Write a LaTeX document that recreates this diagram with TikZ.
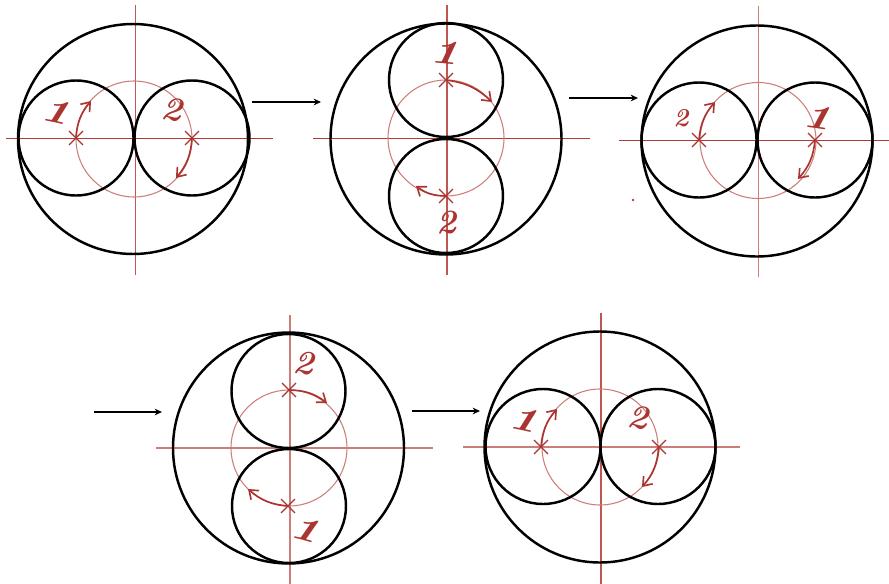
\documentclass[tikz,border=0pt]{standalone}
\usepackage{tikz}
\usepackage{graphicx}
\usetikzlibrary{shapes,shapes.misc,arrows.meta}
\definecolor{redline}{RGB}{178,58,52}
\definecolor{redpale}{RGB}{205,125,120}
\definecolor{redhand}{RGB}{172,52,48}
\newcommand{\wideone}{\scalebox{1.45}[1]{1}}
\tikzset{
  wheel/.style={black,line width=2.1pt},
  pitch/.style={redpale,line width=0.9pt},
  axis/.style={redline,line width=0.8pt},
  upright/.style={redline!85,line width=1.2pt},
  paleaxis/.style={redpale,line width=1.2pt},
  crossmark/.style={cross out,draw=redhand,line width=1.1pt,minimum size=0.38cm,inner sep=0pt},
  turn/.style={redhand,line width=1.4pt,-{Straight Barb[length=2.4mm,width=3.6mm]},bend left=18},
  digit/.style={text=redhand,inner sep=0pt,font=\fontsize{29}{29}\selectfont\bfseries\itshape},
  smalldigit/.style={digit,font=\fontsize{22}{22}\selectfont\bfseries\itshape},
  move/.style={black,line width=1.3pt,-{Stealth[length=2.2mm,width=2mm]}}
}
\begin{document}
\begin{tikzpicture}[x=0.03cm,y=-0.03cm]
\useasboundingbox (0,0) rectangle (889,584);

% first position
\draw[upright] (135.5,5) -- (135.5,275);
\draw[axis] (6,138) -- (273,138);
\draw[pitch] (134,139) circle (58);
\draw[wheel] (133,139) circle (115);
\draw[wheel] (76,138) circle (57.5);
\draw[wheel] (192,138) circle (57.5);
\node[crossmark] (c1a) at (76,138) {};
\node[crossmark] (c1b) at (192,138) {};
\coordinate (e1a) at (91,101);
\coordinate (e1b) at (176,178);
\draw[turn] (c1a.center) to (e1a);
\draw[turn] (c1b.center) to (e1b);
\node[digit,rotate=-12] (n1a) at (56,112) {\wideone};
\node[digit,rotate=-10] (n1b) at (172,109) {2};

% second position
\draw[upright] (447,5) -- (447,275);
\draw[axis] (313,138) -- (590,138);
\draw[pitch] (446,138) circle (58);
\draw[wheel] (446,139) circle (115.5);
\draw[wheel] (446,80) circle (57);
\draw[wheel] (446,196) circle (57);
\node[crossmark] (c2a) at (446,80) {};
\node[crossmark] (c2b) at (446,196) {};
\coordinate (e2a) at (492,102);
\coordinate (e2b) at (416,186);
\draw[turn] (c2a.center) to (e2a);
\draw[turn] (c2b.center) to (e2b);
\node[digit,rotate=-5] (n2a) at (445,53) {\wideone};
\node[digit] (n2b) at (447,223) {2};

% third position
\draw[paleaxis] (758.5,6) -- (758.5,277);
\draw[axis] (619,140) -- (889,140);
\draw[pitch] (758,140.5) circle (58);
\draw[wheel] (757,141) circle (115.5);
\draw[wheel] (699,140) circle (57.5);
\draw[wheel] (815,140) circle (57.5);
\node[crossmark] (c3a) at (699,140) {};
\node[crossmark] (c3b) at (815,140) {};
\coordinate (e3a) at (715,102);
\coordinate (e3b) at (798,179);
\draw[turn] (c3a.center) to (e3a);
\draw[turn] (c3b.center) to (e3b);
\node[smalldigit] (n3a) at (681,118) {2};
\node[digit,rotate=-8] (n3b) at (817,117) {\wideone};
\node[circle,fill=redline,inner sep=0.8pt] (spot) at (633,200) {};

% fourth position
\draw[paleaxis] (290,315) -- (290,584);
\draw[paleaxis] (156,448) -- (433,448);
\draw[pitch] (289,448) circle (58);
\draw[wheel] (288.5,448) circle (115.5);
\draw[wheel] (288.5,391) circle (57);
\draw[wheel] (289,506) circle (57);
\node[crossmark] (c4a) at (289,390) {};
\node[crossmark] (c4b) at (288,506) {};
\coordinate (e4a) at (327,403);
\coordinate (e4b) at (248,489);
\draw[turn] (c4a.center) to (e4a);
\draw[turn] (c4b.center) to (e4b);
\node[digit,rotate=-8] (n4a) at (304,363) {2};
\node[digit,rotate=-15] (n4b) at (305,529) {\wideone};

% fifth position
\draw[upright] (601,313) -- (601,584);
\draw[paleaxis] (463,447) -- (740,447);
\draw[pitch] (600,447) circle (58);
\draw[wheel] (600,447) circle (115.5);
\draw[wheel] (543,446.5) circle (57.5);
\draw[wheel] (658,446.5) circle (57.5);
\node[crossmark] (c5a) at (541,447) {};
\node[crossmark] (c5b) at (659,447) {};
\coordinate (e5a) at (557,409);
\coordinate (e5b) at (642,487);
\draw[turn] (c5a.center) to (e5a);
\draw[turn] (c5b.center) to (e5b);
\node[digit,rotate=-12] (n5a) at (524,420) {\wideone};
\node[digit,rotate=-10] (n5b) at (638,417) {2};

% arrows between positions
\coordinate (s1) at (252,102);
\coordinate (t1) at (321,102);
\coordinate (s2) at (569,98);
\coordinate (t2) at (638,98);
\coordinate (s3) at (94,412);
\coordinate (t3) at (162,412);
\coordinate (s4) at (412,411);
\coordinate (t4) at (480,411);
\draw[move] (s1) -- (t1);
\draw[move] (s2) -- (t2);
\draw[move] (s3) -- (t3);
\draw[move] (s4) -- (t4);
\end{tikzpicture}
\end{document}
